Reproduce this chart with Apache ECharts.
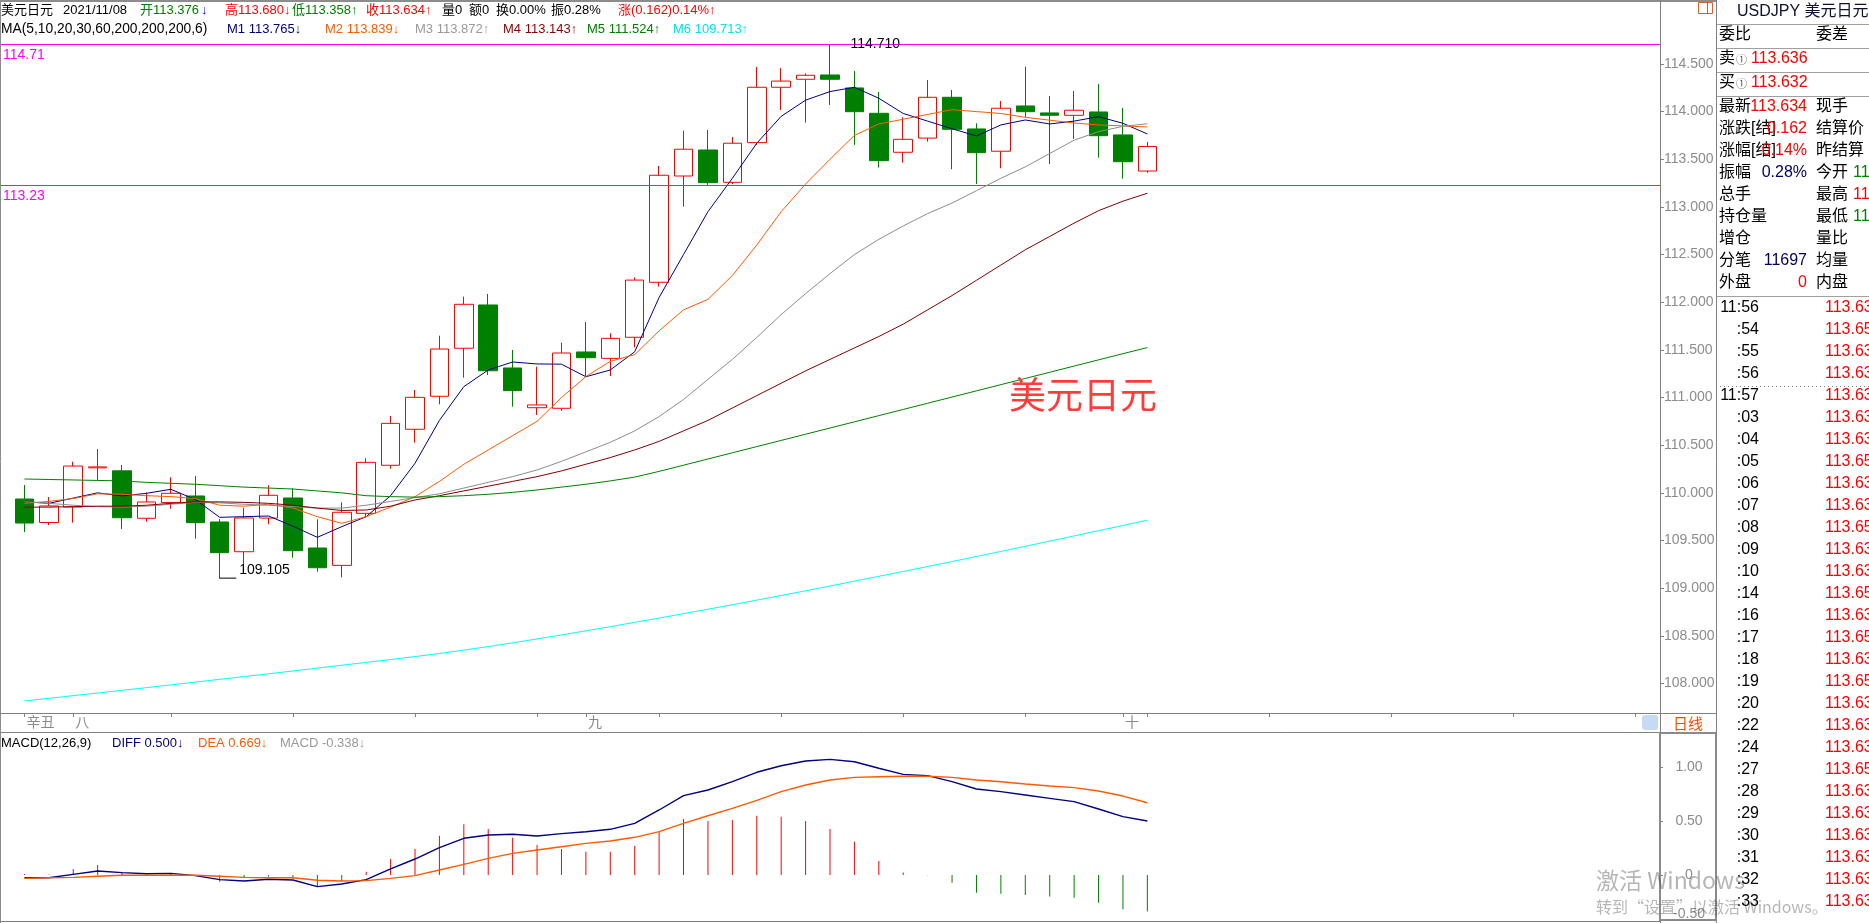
<!DOCTYPE html>
<html><head><meta charset="utf-8">
<script src="https://cdn.jsdelivr.net/npm/echarts@6/dist/echarts.min.js"></script>
<style>html,body{margin:0;padding:0;background:#fff;overflow:hidden}#c{width:1869px;height:923px}</style>
</head><body><div id="c"></div>
<script>
// ---------------- data ----------------
const dates = ['2021-09-03','2021-09-06','2021-09-07','2021-09-08','2021-09-09','2021-09-10','2021-09-13','2021-09-14','2021-09-15','2021-09-16',
 '2021-09-17','2021-09-20','2021-09-21','2021-09-22','2021-09-23','2021-09-24','2021-09-27','2021-09-28','2021-09-29','2021-09-30',
 '2021-10-01','2021-10-04','2021-10-05','2021-10-06','2021-10-07','2021-10-08','2021-10-11','2021-10-12','2021-10-13','2021-10-14',
 '2021-10-15','2021-10-18','2021-10-19','2021-10-20','2021-10-21','2021-10-22','2021-10-25','2021-10-26','2021-10-27','2021-10-28',
 '2021-10-29','2021-11-01','2021-11-02','2021-11-03','2021-11-04','2021-11-05','2021-11-08'];
const futureDates = ['2021-11-09','2021-11-10','2021-11-11','2021-11-12','2021-11-15','2021-11-16','2021-11-17','2021-11-18','2021-11-19',
 '2021-11-22','2021-11-23','2021-11-24','2021-11-25','2021-11-26','2021-11-29','2021-11-30','2021-12-01','2021-12-02','2021-12-03','2021-12-06','2021-12-07'];
const markDates = ['2021-09-03','2021-09-07','2021-10-06','2021-11-05'];
const markTexts = ['辛丑','八','九','十'];
const weekTickDates = ['2021-09-13','2021-09-20','2021-09-27','2021-10-04','2021-10-11','2021-10-18','2021-10-25','2021-11-01','2021-11-08',
 '2021-11-15','2021-11-22','2021-11-29','2021-12-06'];

const open  = [109.935,109.689,109.851,110.262,110.231,109.733,109.899,109.967,109.694,109.382,109.735,109.946,109.421,109.239,109.785,110.289,110.667,111.013,111.517,111.971,
 111.310,110.893,110.887,111.478,111.411,111.632,112.209,113.324,113.597,113.258,113.674,114.255,114.339,114.384,114.248,113.982,113.573,113.722,114.150,113.818,
 113.584,114.059,113.986,113.961,113.996,113.755,113.376];
const close = [109.683,109.862,110.281,110.272,109.739,109.904,109.995,109.687,109.372,109.736,109.974,109.393,109.214,109.796,110.320,110.729,111.002,111.509,111.978,111.281,
 111.072,110.922,111.467,111.418,111.621,112.232,113.332,113.605,113.254,113.668,114.255,114.320,114.381,114.339,113.999,113.485,113.709,114.150,113.814,113.569,
 114.035,113.999,113.961,114.014,113.747,113.474,113.634];
const low   = [109.589,109.662,109.686,110.135,109.620,109.697,109.833,109.519,109.105,109.190,109.670,109.319,109.172,109.114,109.743,110.253,110.526,110.929,111.208,111.236,
 110.904,110.817,110.862,111.218,111.226,111.527,112.163,113.002,113.230,113.240,113.650,114.017,113.884,114.069,113.650,113.412,113.464,113.684,113.395,113.240,
 113.405,113.940,113.450,113.713,113.516,113.296,113.358];
const high  = [110.082,109.956,110.326,110.460,110.292,110.003,110.163,110.177,109.725,109.844,110.079,110.048,109.722,109.901,110.362,110.806,111.079,111.649,112.058,112.086,
 111.499,111.323,111.575,111.792,111.674,112.260,113.429,113.800,113.807,113.734,114.468,114.455,114.402,114.710,114.426,114.206,113.940,114.332,114.227,113.877,
 114.111,114.471,114.164,114.216,114.290,114.038,113.680];

const ma5   = [109.907,109.890,109.945,110.000,109.967,109.995,110.037,109.930,109.743,109.750,109.757,109.650,109.533,109.645,109.750,109.970,110.310,110.760,111.114,111.289,
 111.373,111.352,111.350,111.218,111.289,111.480,112.050,112.500,112.950,113.300,113.668,113.950,114.120,114.210,114.255,114.140,113.980,113.900,113.820,113.744,
 113.860,113.912,113.870,113.900,113.947,113.877,113.765];
const ma10  = [109.890,109.910,109.940,109.990,109.985,109.970,109.960,109.940,109.870,109.860,109.880,109.840,109.750,109.680,109.750,109.850,109.960,110.120,110.300,110.450,
 110.600,110.750,111.000,111.220,111.380,111.450,111.700,111.920,112.030,112.280,112.600,112.950,113.240,113.500,113.750,113.870,113.920,113.970,114.020,114.000,
 113.980,113.940,113.910,113.880,113.860,113.850,113.839];
const ma20  = [109.907,109.890,109.870,109.855,109.850,109.860,109.880,109.900,109.895,109.880,109.870,109.855,109.840,109.840,109.870,109.910,109.950,109.990,110.050,110.110,
 110.170,110.240,110.330,110.430,110.530,110.650,110.800,110.980,111.190,111.400,111.630,111.870,112.090,112.300,112.500,112.660,112.800,112.930,113.040,113.170,
 113.300,113.420,113.560,113.700,113.790,113.845,113.872];
const ma30  = [109.850,109.850,109.855,109.860,109.860,109.870,109.890,109.905,109.905,109.900,109.890,109.870,109.840,109.815,109.820,109.860,109.925,109.970,110.020,110.070,
 110.120,110.170,110.230,110.300,110.370,110.450,110.540,110.650,110.760,110.890,111.020,111.150,111.280,111.400,111.520,111.640,111.770,111.920,112.070,112.230,
 112.390,112.550,112.690,112.830,112.960,113.060,113.143];
const ma60  = [110.145,110.140,110.135,110.130,110.125,110.110,110.100,110.090,110.075,110.060,110.050,110.040,110.020,110.000,109.970,109.960,109.955,109.960,109.970,109.985,
 110.005,110.030,110.060,110.090,110.125,110.165,110.225,110.290,110.355,110.420,110.485,110.550,110.615,110.680,110.745,110.810,110.875,110.940,111.005,111.070,
 111.135,111.200,111.265,111.330,111.395,111.460,111.524];
const ma200 = [107.816,107.844,107.872,107.900,107.928,107.956,107.985,108.014,108.043,108.072,108.101,108.131,108.161,108.191,108.221,108.251,108.282,108.315,108.350,108.387,
 108.426,108.467,108.509,108.552,108.596,108.641,108.686,108.732,108.779,108.826,108.874,108.923,108.972,109.022,109.073,109.124,109.175,109.227,109.279,109.332,
 109.385,109.439,109.493,109.548,109.603,109.658,109.713];

const diff = [-0.025,-0.025,0.006,0.037,0.022,0.012,0.015,-0.006,-0.043,-0.056,-0.040,-0.046,-0.108,-0.083,-0.043,0.056,0.148,0.253,0.340,0.370,
 0.377,0.361,0.383,0.401,0.423,0.478,0.602,0.735,0.787,0.864,0.951,1.012,1.056,1.071,1.049,0.988,0.932,0.920,0.864,0.796,
 0.772,0.741,0.710,0.679,0.611,0.540,0.500];
const dea = [-0.031,-0.025,-0.022,-0.012,-0.003,-0.003,-0.003,-0.003,-0.012,-0.022,-0.025,-0.025,-0.049,-0.056,-0.052,-0.031,-0.006,0.046,0.099,0.154,
 0.200,0.231,0.262,0.293,0.315,0.349,0.401,0.478,0.549,0.617,0.691,0.772,0.833,0.880,0.904,0.910,0.914,0.914,0.904,0.880,
 0.864,0.843,0.824,0.809,0.778,0.731,0.669];
const macd = [0.009,0.005,0.056,0.093,0.025,0.005,0.015,0.003,-0.062,-0.025,-0.015,-0.037,-0.108,-0.056,0.031,0.148,0.241,0.364,0.469,0.426,
 0.346,0.278,0.241,0.216,0.216,0.269,0.395,0.519,0.500,0.509,0.549,0.540,0.500,0.426,0.309,0.130,0.022,-0.003,-0.071,-0.164,
 -0.173,-0.185,-0.200,-0.210,-0.256,-0.318,-0.338];

const levelLines = [114.71, 113.23];

// quote panel texts
const quoteTitle = 'USDJPY 美元日元';
const bookRows = [['卖','113.636'],['买','113.632']];
const infoLeft = [['最新','113.634','#ff0000'],['涨跌[结]','0.162','#ff0000'],['涨幅[结]','0.14%','#ff0000'],['振幅','0.28%','#000060'],
 ['总手','',''],['持仓量','',''],['增仓','',''],['分笔','11697','#000060'],['外盘','0','#ff0000']];
const infoRight = [['现手','',''],['结算价','',''],['昨结算','113.472','#000000'],['今开','113.376','#008000'],['最高','113.680','#ff0000'],
 ['最低','113.358','#008000'],['量比','',''],['均量','',''],['内盘','','']];
const tickTimes = ['11:56',':54',':55',':56','11:57',':03',':04',':05',':06',':07',':08',':09',':10',':14',':16',':17',':18',':19',':20',
 ':22',':24',':27',':28',':29',':30',':31',':32',':33'];
const tickPrices = ['113.63','113.65','113.63','113.63','113.63','113.63','113.63','113.65','113.63','113.63','113.65','113.63','113.63','113.65',
 '113.63','113.65','113.63','113.65','113.63','113.63','113.63','113.65','113.63','113.63','113.63','113.63','113.63','113.63'];

// ---------------- build ----------------
const FONT = '"Liberation Sans", Arial, "Noto Sans CJK SC", sans-serif';
const CJK = '"Noto Sans CJK SC", "Liberation Sans", sans-serif';
const categories = [''].concat(dates, futureDates);
const labelMap = new Map(markDates.map((d, i) => [d, markTexts[i]]));
const tickSet = new Set(markDates.concat(weekTickDates));
const last = dates.length - 1;
const f3 = v => v.toFixed(3);

const candleRows = dates.map((d, i) => [i + 1, open[i], close[i], low[i], high[i]]);
const pts = arr => arr.map((v, i) => [i + 1, v]);

let maxI = 0, minI = 0;
high.forEach((v, i) => { if (v > high[maxI]) maxI = i; });
low.forEach((v, i) => { if (v < low[minI]) minI = i; });

// graphics
const G = [];
function gl(x1, y1, x2, y2, color, w, dash) {
  G.push({type: 'line', silent: true, z: 100, shape: {x1, y1, x2, y2}, style: {stroke: color, lineWidth: w || 1, lineDash: dash || null}});
}
function gt(x, y, text, color, font, align) {
  G.push({type: 'text', silent: true, z: 100, x, y, style: {text, fill: color, font, align: align || 'left', verticalAlign: 'middle'}});
}
// header segments
const HF = '13px ' + FONT;
const hdr1 = [
  [0, '美元日元', '#000'], [62, dates[last].replace(/-/g, '/'), '#000'],
  [139, '开' + f3(open[last]), '#008000'], [200, '↓', '#0000ff'],
  [224, '高' + f3(high[last]) + '↓', '#ff0000'], [291, '低' + f3(low[last]) + '↑', '#008000'],
  [365, '收' + f3(close[last]) + '↑', '#ff0000'], [441, '量0', '#000'], [468, '额0', '#000'],
  [495, '换0.00%', '#000'], [550, '振0.28%', '#000'], [617, '涨(0.162)0.14%↑', '#ff0000']];
const hdr2 = [
  [0, 'MA(5,10,20,30,60,200,200,200,6)', '#000'], [226, 'M1 ' + f3(ma5[last]) + '↓', '#000080'],
  [324, 'M2 ' + f3(ma10[last]) + '↓', '#ff5a00'], [414, 'M3 ' + f3(ma20[last]) + '↑', '#999999'],
  [502, 'M4 ' + f3(ma30[last]) + '↑', '#8b0000'], [586, 'M5 ' + f3(ma60[last]) + '↑', '#008000'],
  [672, 'M6 ' + f3(ma200[last]) + '↑', '#00e5e5']];
const hdr3 = [
  [0, 'MACD(12,26,9)', '#000'], [111, 'DIFF ' + f3(diff[last]) + '↓', '#000080'],
  [197, 'DEA ' + f3(dea[last]) + '↓', '#ff5a00'], [279, 'MACD ' + f3(macd[last]) + '↓', '#999999']];
hdr1.forEach(s => gt(s[0] + 1, 10, s[1], s[2], HF));
hdr2.forEach((s, i) => gt(s[0] + 1, 29, s[1], s[2], i === 0 ? '13.8px ' + FONT : HF));
hdr3.forEach(s => gt(s[0] + 1, 743, s[1], s[2], HF));

gl(0, 1, 1717, 1, '#8c8c8c', 2);
gl(0.5, 0, 0.5, 923, '#8c8c8c', 1);
gl(1660.5, 0, 1660.5, 733, '#808080', 1);
gl(1716.5, 0, 1716.5, 923, '#808080', 1);
gl(0, 713.5, 1717, 713.5, '#808080', 1);
gl(0, 732.5, 1717, 732.5, '#808080', 1);
gl(0, 921.5, 1660, 921.5, '#808080', 1);
G.push({type: 'rect', silent: true, z: 100, shape: {x: 1660, y: 733, width: 56, height: 187}, style: {fill: 'none', stroke: '#8a8a8a', lineWidth: 2}});
G.push({type: 'rect', silent: true, z: 100, shape: {x: 1642, y: 715, width: 16, height: 15, r: 3}, style: {fill: '#c6dbf3'}});
G.push({type: 'rect', silent: true, z: 100, shape: {x: 1698.5, y: 2.5, width: 14, height: 11}, style: {fill: 'none', stroke: '#e05a28', lineWidth: 1}});
gl(1707.5, 2.5, 1707.5, 13.5, '#e05a28', 1);
gt(1688, 723, '日线', '#ff4a00', '15px ' + CJK, 'center');
gt(1009, 395, '美元日元', '#ff3c3c', '37px ' + CJK);

// quote panel
[24, 48, 72, 96, 296].forEach(y => gl(1717, y + 0.5, 1869, y + 0.5, '#a0a0a0', 1));
gl(1720, 386.5, 1869, 386.5, '#808080', 1, [1, 3]);
const PF = '16px ' + FONT;
gt(1737, 12, quoteTitle, '#101030', PF);
gt(1719, 35, '委比', '#000', PF);
gt(1816, 35, '委差', '#000', PF);
bookRows.forEach((r, i) => {
  const y = 59 + i * 24;
  gt(1719, y, r[0], '#000', PF);
  gt(1736, y + 1, '①', '#5a5a7a', '11px ' + CJK);
  gt(1751, y, r[1], '#ff0000', PF);
});
infoLeft.forEach((r, i) => {
  const y = 107 + i * 22;
  gt(1719, y, r[0], '#000', PF);
  if (r[1]) gt(1807, y, r[1], r[2], PF, 'right');
});
infoRight.forEach((r, i) => {
  const y = 107 + i * 22;
  gt(1816, y, r[0], '#000', PF);
  if (r[1]) gt(1816 + r[0].length * 16 + 5, y, r[1], r[2], PF);
});
tickTimes.forEach((t, i) => {
  const y = 308 + i * 22;
  gt(1759, y, t, '#000', PF, 'right');
  gt(1825, y, tickPrices[i], '#ff0000', PF);
});
// windows watermark
gt(1596, 880, '激活 Windows', 'rgba(60,60,60,0.38)', '23px ' + CJK);
gt(1596, 907, '转到“设置”以激活 Windows。', 'rgba(60,60,60,0.38)', '16px ' + CJK);

const lineS = (name, arr, color, grid, w) => ({
  name, type: 'line', data: pts(arr), xAxisIndex: grid, yAxisIndex: grid, symbol: 'none', smooth: false,
  lineStyle: {color, width: w || 1}, itemStyle: {color}, z: 5, animation: false, silent: true
});

const option = {
  animation: false,
  backgroundColor: '#ffffff',
  grid: [
    {left: 0, right: 209, top: 36, bottom: 210, containLabel: false, outerBoundsMode: 'none'},
    {left: 0, right: 209, top: 735, bottom: -6, containLabel: false, outerBoundsMode: 'none'}
  ],
  xAxis: [
    {type: 'category', gridIndex: 0, data: categories, boundaryGap: false,
     axisLine: {show: true, lineStyle: {color: '#808080', width: 1}},
     axisTick: {show: true, length: 4, interval: (i, v) => tickSet.has(v), lineStyle: {color: '#808080'}},
     axisLabel: {show: true, interval: (i, v) => labelMap.has(v), formatter: v => labelMap.get(v) || '',
       color: '#8a8a8a', fontSize: 14, fontFamily: CJK, align: 'left', margin: 2, padding: [0, 0, 0, 2]},
     splitLine: {show: false}},
    {type: 'category', gridIndex: 1, data: categories, boundaryGap: false,
     axisLine: {show: false}, axisTick: {show: false}, axisLabel: {show: false}, splitLine: {show: false}}
  ],
  yAxis: [
    {type: 'value', gridIndex: 0, position: 'right', min: 107.69, max: 114.793, splitNumber: 14, minInterval: 0.5, maxInterval: 0.5,
     axisLine: {show: true, lineStyle: {color: '#808080'}},
     axisTick: {show: true, length: 4, lineStyle: {color: '#808080'}},
     axisLabel: {show: true, color: '#8c8c8c', fontSize: 14, fontFamily: FONT, margin: 4, formatter: v => v.toFixed(3),
       showMinLabel: false, showMaxLabel: false},
     splitLine: {show: false}},
    {type: 'value', gridIndex: 1, position: 'right', min: -0.5, max: 1.2963, interval: 0.5,
     axisLine: {show: true, lineStyle: {color: '#808080'}},
     axisTick: {show: true, length: 3, lineStyle: {color: '#808080'}},
     axisLabel: {show: true, color: '#8c8c8c', fontSize: 14, fontFamily: FONT, margin: 29, align: 'center', showMaxLabel: false,
       formatter: v => v === 0 ? '0' : (v < 0 ? '{lo|' + v.toFixed(2) + '}' : v.toFixed(2)),
       rich: {lo: {color: '#8c8c8c', fontSize: 14, fontFamily: FONT, padding: [0, 0, 30, 0]}}},
     splitLine: {show: false}}
  ],
  graphic: {elements: G},
  series: [
    {name: 'K', type: 'candlestick', xAxisIndex: 0, yAxisIndex: 0, data: candleRows, encode: {x: 0, y: [1, 2, 3, 4]},
     barWidth: 19, z: 3, silent: true,
     itemStyle: {color: '#ffffff', color0: '#008000', borderColor: '#ff0000', borderColor0: '#008000', borderWidth: 1},
     markLine: {symbol: 'none', silent: true, animation: false, z: 4,
       data: [
         {yAxis: levelLines[0], lineStyle: {color: '#ff00ff', width: 1, type: 'solid'},
          label: {show: true, position: 'insideStartBottom', formatter: String(levelLines[0]), color: '#ff00ff', fontSize: 14, fontFamily: FONT, distance: [3, 4]}},
         {yAxis: levelLines[1], lineStyle: {color: '#ff00ff', width: 1, type: 'solid'},
          label: {show: true, position: 'insideStartBottom', formatter: String(levelLines[1]), color: '#ff00ff', fontSize: 14, fontFamily: FONT, distance: [3, 4]}},
         {yAxis: close[last], lineStyle: {opacity: 0, width: 0},
          label: {show: true, position: 'end', formatter: f3(close[last]), color: '#ff0000', fontSize: 14, fontFamily: FONT,
            backgroundColor: '#e3ece3', padding: [1, 2, 0, 3], distance: 0}}
       ]},
     markPoint: {animation: false, silent: true,
       data: [
         {coord: [maxI + 1, high[maxI]], value: high[maxI], symbol: 'rect', symbolSize: [1, 1], itemStyle: {color: 'rgba(0,0,0,0)'},
          label: {show: true, position: 'right', distance: 20, formatter: f3(high[maxI]), color: '#000', fontSize: 14, fontFamily: FONT}},
         {coord: [minI + 1, low[minI]], value: low[minI], symbol: 'rect', symbolSize: [17, 1], symbolOffset: [8, 0], itemStyle: {color: '#000'},
          label: {show: true, position: 'right', distance: 3, offset: [0, -8], formatter: f3(low[minI]), color: '#000', fontSize: 14, fontFamily: FONT}}
       ]}
    },
    lineS('MA5', ma5, '#000080', 0),
    lineS('MA10', ma10, '#ff5a00', 0),
    lineS('MA20', ma20, '#8c8c8c', 0),
    lineS('MA30', ma30, '#800000', 0),
    lineS('MA60', ma60, '#008000', 0),
    lineS('MA200', ma200, '#00ffff', 0),
    {name: 'MACD', type: 'bar', xAxisIndex: 1, yAxisIndex: 1, data: pts(macd), barWidth: 1, silent: true,
     itemStyle: {color: p => (p.value[1] >= 0 ? '#ff0000' : '#008000')}},
    lineS('DIFF', diff, '#000080', 1, 1.4),
    lineS('DEA', dea, '#ff5a00', 1, 1.4)
  ]
};
const chart = echarts.init(document.getElementById('c'));
chart.setOption(option);
</script>
</body></html>
